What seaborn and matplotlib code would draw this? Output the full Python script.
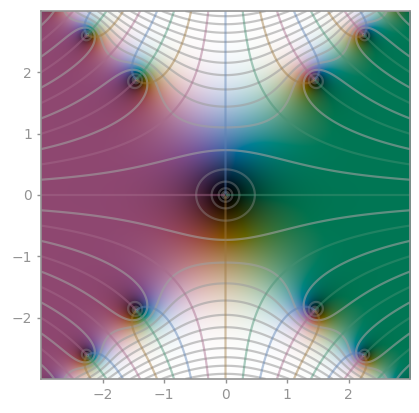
import numpy as np
import matplotlib
matplotlib.use("Agg")
import matplotlib.pyplot as plt
import seaborn as sns

# NOTE: the surface is evaluated from erf(z), identified from the picture,
# because the per-pixel colours cannot be read off by hand
x_range = [-3.0, 3.0]
y_range = [-3.0, 3.0]
tick_values = [-2, -1, 0, 1, 2]
tick_labels = ["\u22122", "\u22121", "0", "1", "2"]
low_exponents = [-5, -4, -3, -2, -1]
high_exponents = [0, 1, 2, 3, 4, 5, 6, 7, 8, 9, 10, 11]
arg_angles = [-np.pi / 2, 0.0, np.pi / 2, np.pi]
GRID = 500
GRAY = "#939393"


def erf_series(z):
    term = z.copy()
    total = z.copy()
    for n in range(1, 110):
        term = -term * z * z / n
        total = total + term / (2 * n + 1)
    return 2 / np.sqrt(np.pi) * total


def to_rgb(f):
    # oklab bicone, green for positive real values
    r = np.abs(f)
    L = r / (r + 1)
    rd = 0.0850 * 1.28 * (1 - 2 * np.abs(L - 0.5))
    ang = np.angle(f) + np.pi - 0.25
    a = rd * np.cos(ang)
    b = rd * np.sin(ang)
    l_ = L + 0.3963377774 * a + 0.2158037573 * b
    m_ = L - 0.1055613458 * a - 0.0638541728 * b
    s_ = L - 0.0894841775 * a - 1.2914855480 * b
    l3, m3, s3 = l_ ** 3, m_ ** 3, s_ ** 3
    rgb = np.stack([
        4.0767416621 * l3 - 3.3077115913 * m3 + 0.2309699292 * s3,
        -1.2684380046 * l3 + 2.6097574011 * m3 - 0.3413193965 * s3,
        -0.0041960863 * l3 - 0.7034186147 * m3 + 1.7076147010 * s3,
    ], axis=-1)
    rgb = np.clip(rgb, 0, 1)
    return np.where(rgb <= 0.0031308, 12.92 * rgb, 1.055 * rgb ** (1 / 2.4) - 0.055)


sns.set_theme(style="ticks", rc={
    "axes.edgecolor": GRAY,
    "xtick.color": GRAY,
    "ytick.color": GRAY,
    "xtick.labelcolor": GRAY,
    "ytick.labelcolor": GRAY,
    "axes.linewidth": 1.2,
})
plt.rcParams["font.family"] = ["DejaVu Sans"]

x = np.linspace(x_range[0], x_range[1], GRID)
y = np.linspace(y_range[0], y_range[1], GRID)
X, Y = np.meshgrid(x, y)
Z = X + 1j * Y
F = erf_series(Z)

fig = plt.figure(figsize=(4.19, 4.13), dpi=100)
ax = fig.add_axes([41 / 419, 1 - 379 / 413, 369 / 419, 368 / 413])
ax.imshow(to_rgb(F), extent=x_range + y_range, origin="lower", interpolation="bilinear", aspect="auto")

# modulus contours, fainter below 1
ax.contour(X, Y, np.abs(F), levels=[2.0 ** k for k in low_exponents], colors="#a0a0a0", alpha=0.35, linewidths=1.6)
ax.contour(X, Y, np.abs(F), levels=[2.0 ** k for k in high_exponents], colors="#a0a0a0", alpha=0.6, linewidths=1.6)

# phase contours, a bit lighter than the colouring
for angle in arg_angles:
    rotated = F * np.exp(-1j * angle)
    vals = np.ma.masked_where(rotated.real < 0, rotated.imag)
    color = to_rgb(np.array([1.5 * np.exp(1j * angle)]))[0]
    ax.contour(X, Y, vals, levels=[0.0], colors=[color], alpha=0.45, linewidths=1.6)

ax.set_xlim(x_range)
ax.set_ylim(y_range)
ax.set_xticks(tick_values, tick_labels)
ax.set_yticks(tick_values, tick_labels)
ax.tick_params(axis="both", labelsize=10, length=3, width=1)

plt.savefig("out.png", dpi=100)
plt.close()
